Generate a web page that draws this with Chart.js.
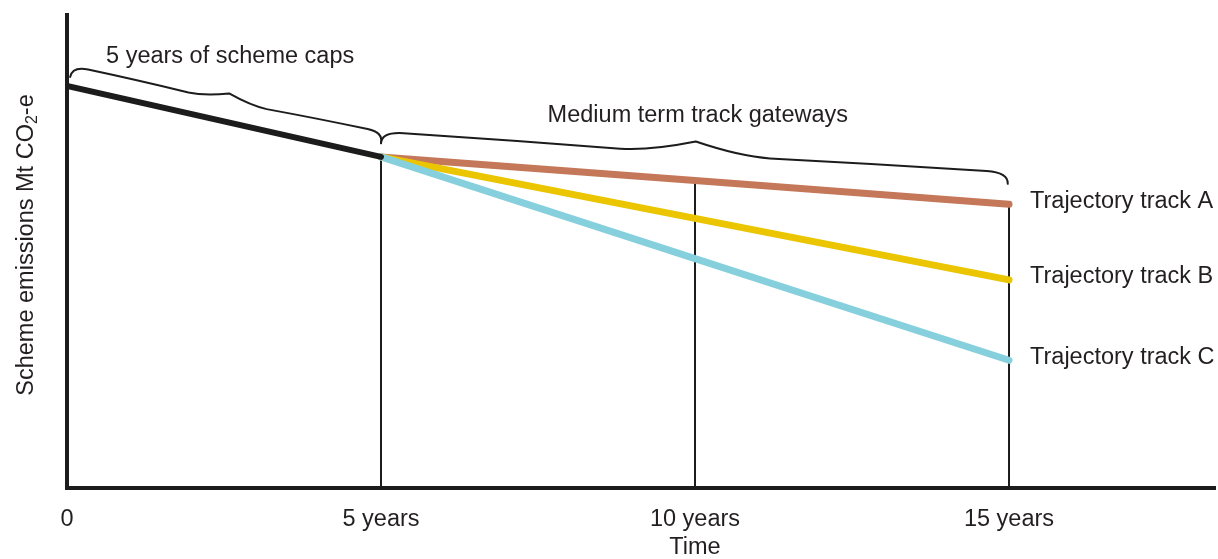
<!DOCTYPE html>
<html>
<head>
<meta charset="utf-8">
<script src="https://cdn.jsdelivr.net/npm/chart.js@4"></script>
<style>
  html, body { margin: 0; padding: 0; background: #fff; }
  #wrap { width: 1218px; height: 559px; }
</style>
</head>
<body>
<div id="wrap"><canvas id="chart"></canvas></div>
<script>
// years on the time axis
const tickYears = [0, 5, 10, 15];
const tickLabels = ['0', '5 years', '10 years', '15 years'];

// emissions (relative units, axis runs 0..100)
const capYears = [0, 5];
const capValues = [85, 70];

const trackYears = [5, 10, 15];
const trackA = [70, 65, 60];
const trackB = [70, 57, 44];
const trackC = [70, 48.5, 27];
const trackNames = ['Trajectory track A', 'Trajectory track B', 'Trajectory track C'];

const gatewayYears = [5, 10, 15];
const gatewayTops = [70, 65, 60];

// brace annotations: [x1, y1, x2, y2] in data units
const braceCaps = [0.05, 86.9, 5.0, 72.9];
const braceGateways = [5.0, 72.9, 14.98, 64.3];
const braceCapsLabel = '5 years of scheme caps';
const braceGatewaysLabel = 'Medium term track gateways';

const FONT = '"Liberation Sans", Arial, sans-serif';
const INK = '#1c1c1c';
const TEXT = '#231f20';
const FS = 23.5;

function pts(xs, ys) { return xs.map((x, i) => ({ x, y: ys[i] })); }

// curly brace above the segment (x1,y1)-(x2,y2): body offset h, tip offset H,
// hook length r, tip half width s
function drawBrace(ctx, x1, y1, x2, y2, h, H, r, s) {
    const L = Math.hypot(x2 - x1, y2 - y1);
    const ang = Math.atan2(y2 - y1, x2 - x1);
    const m = L / 2, hs = h - 1.5;
    const half = (e, dir) => {
        // e: end point u, dir: +1 going right from left end, -1 from right end
        ctx.moveTo(e, 0);
        ctx.quadraticCurveTo(e, -h, e + dir * r, -h);
        ctx.quadraticCurveTo(e + dir * (m - s) * 0.55, -h, m - dir * s, -hs);
        ctx.quadraticCurveTo(m - dir * s * 0.6, -hs, m, -H);
    };
    ctx.save();
    ctx.translate(x1, y1);
    ctx.rotate(ang);
    ctx.beginPath();
    half(0, 1);
    half(L, -1);
    ctx.stroke();
    ctx.restore();
    return [x1 + Math.cos(ang) * m + Math.sin(ang) * H, y1 + Math.sin(ang) * m - Math.cos(ang) * H];
}

const annotations = {
    id: 'annotations',
    afterDatasetsDraw(chart) {
        const { ctx, scales: { x, y } } = chart;
        ctx.save();
        ctx.strokeStyle = INK;
        ctx.fillStyle = TEXT;
        ctx.lineWidth = 2;
        ctx.lineCap = 'round';
        ctx.lineJoin = 'round';

        const b1 = braceCaps, b2 = braceGateways;
        const t1 = drawBrace(ctx, x.getPixelForValue(b1[0]), y.getPixelForValue(b1[1]),
            x.getPixelForValue(b1[2]), y.getPixelForValue(b1[3]), 11, 17, 16, 40);
        const t2 = drawBrace(ctx, x.getPixelForValue(b2[0]), y.getPixelForValue(b2[1]),
            x.getPixelForValue(b2[2]), y.getPixelForValue(b2[3]), 11.5, 22, 22, 75);

        ctx.font = FS + 'px ' + FONT;
        ctx.textAlign = 'center';
        ctx.textBaseline = 'middle';
        ctx.fillText(braceCapsLabel, t1[0] + 1, t1[1] - 37);
        ctx.fillText(braceGatewaysLabel, t2[0] + 2, t2[1] - 26);

        // track labels
        ctx.textAlign = 'left';
        const ends = [trackA, trackB, trackC].map(s => s[s.length - 1]);
        const xe = x.getPixelForValue(trackYears[trackYears.length - 1]);
        ends.forEach((v, i) => {
            ctx.fillText(trackNames[i], xe + 21, y.getPixelForValue(v) - 3);
        });

        // x title
        ctx.textAlign = 'center';
        ctx.fillText('Time', x.getPixelForValue(10), 548);

        // y title with subscript
        ctx.translate(27, 245);
        ctx.rotate(-Math.PI / 2);
        const main = 'Scheme emissions Mt CO', sub = '2', tail = '-e';
        ctx.font = FS + 'px ' + FONT;
        const wMain = ctx.measureText(main).width, wTail = ctx.measureText(tail).width;
        ctx.font = '16px ' + FONT;
        const wSub = ctx.measureText(sub).width;
        let sx = -(wMain + wSub + wTail) / 2;
        ctx.textAlign = 'left';
        ctx.font = FS + 'px ' + FONT;
        ctx.fillText(main, sx, 0);
        sx += wMain;
        ctx.font = '16px ' + FONT;
        ctx.fillText(sub, sx, 6);
        sx += wSub;
        ctx.font = FS + 'px ' + FONT;
        ctx.fillText(tail, sx, 0);
        ctx.restore();
    }
};

const line = (data, color, width) => ({
    data, borderColor: color, borderWidth: width, pointRadius: 0,
    borderCapStyle: 'round', borderJoinStyle: 'round', tension: 0, fill: false
});

const datasets = [
    line(pts(capYears, capValues), '#1c1c1c', 6),
    line(pts(trackYears, trackC), '#86cfdd', 7),
    line(pts(trackYears, trackB), '#ebc500', 7),
    line(pts(trackYears, trackA), '#c47859', 7),
    ...gatewayYears.map((g, i) => ({
        data: [{ x: g, y: 0 }, { x: g, y: gatewayTops[i] }],
        borderColor: INK, borderWidth: 2, pointRadius: 0, borderCapStyle: 'butt', fill: false
    }))
];

new Chart(document.getElementById('chart'), {
    type: 'line',
    data: { datasets },
    options: {
        responsive: true,
        maintainAspectRatio: false,
        animation: false,
        layout: { padding: { left: 0, right: 3, top: 15, bottom: 0 } },
        plugins: { legend: { display: false }, tooltip: { enabled: false }, title: { display: false } },
        scales: {
            x: {
                type: 'linear', min: 0, max: 18.28,
                afterBuildTicks: s => { s.ticks = tickYears.map(v => ({ value: v })); },
                afterFit: s => { s.height = 71; },
                grid: { display: false, drawTicks: false },
                border: { display: true, color: INK, width: 4 },
                ticks: {
                    padding: 17, color: TEXT, maxRotation: 0, autoSkip: false,
                    font: { family: FONT, size: FS },
                    callback: v => tickLabels[tickYears.indexOf(v)] ?? ''
                }
            },
            y: {
                min: 0, max: 100,
                afterFit: s => { s.width = 67; },
                grid: { display: false, drawTicks: false },
                border: { display: true, color: INK, width: 4 },
                ticks: { display: false }
            }
        }
    },
    plugins: [annotations]
});
</script>
</body>
</html>
